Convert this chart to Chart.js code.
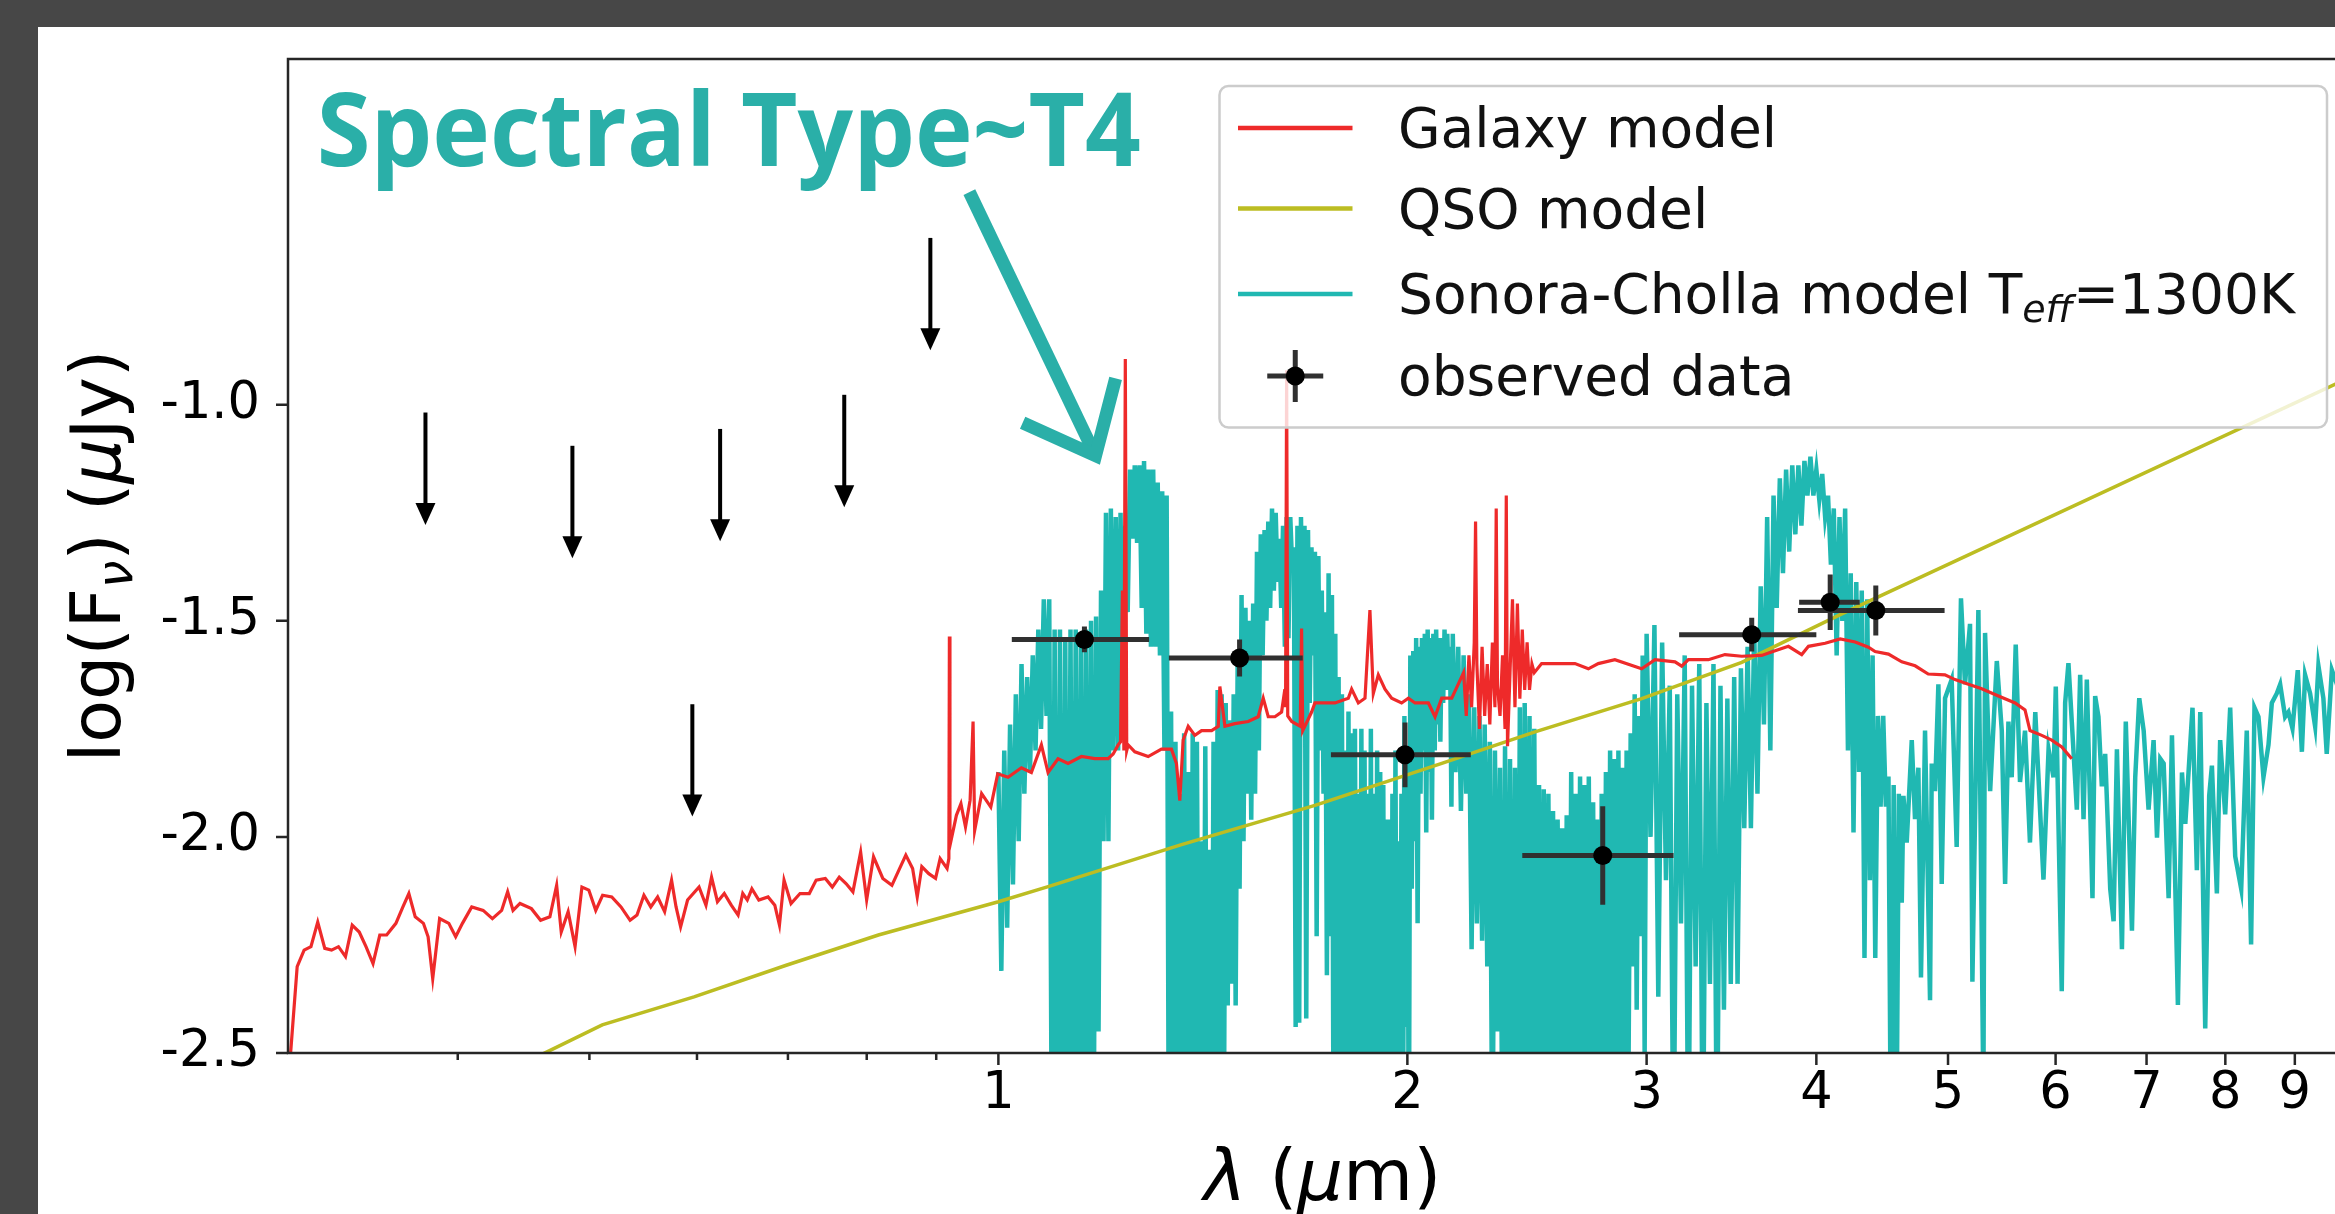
<!DOCTYPE html>
<html>
<head>
<meta charset="utf-8">
<title>SED fit</title>
<script src="https://cdn.jsdelivr.net/npm/chart.js@4.4.0/dist/chart.umd.min.js"></script>
<style>
  html, body { margin: 0; padding: 0; overflow: hidden; background: #474747; }
  #panel { position: absolute; left: 38px; top: 27px; right: 0; bottom: 0; background: #fff; }
  #sed { position: absolute; left: 0; top: 0; }
</style>
</head>
<body>
<div id="panel"></div>
<canvas id="sed" width="2400" height="1214"></canvas>
<script>
// Galaxy model (red), wavelength in micron, log flux in uJy
const galaxyWave = [
  0.301,0.3047,0.3083,0.3119,0.3155,0.3193,0.3230,0.3268,0.3307,0.3345,
  0.3385,0.3424,0.3465,0.3505,0.3546,0.3602,0.3645,0.3682,0.3722,0.3774,
  0.3804,0.3834,0.3879,0.3940,0.3986,0.4032,0.4096,0.4176,0.4242,0.4309,
  0.4353,0.4393,0.4445,0.4532,0.4603,0.4676,0.4730,0.4767,0.4823,0.4880,
  0.4937,0.4995,0.5054,0.5113,0.5193,0.5275,0.5357,0.5420,0.5484,0.5548,
  0.5613,0.5680,0.5747,0.5791,0.5836,0.5905,0.6021,0.6092,0.6150,0.6212,
  0.6284,0.6359,0.6433,0.6484,0.6534,0.6585,0.6663,0.6768,0.6846,0.6900,
  0.6954,0.7037,0.7145,0.7258,0.7343,0.7458,0.7547,0.7636,0.7724,0.7815,
  0.7918,0.7999,0.8093,0.8221,0.8349,0.8448,0.8548,0.8647,0.8715,0.8783,
  0.8887,0.8990,0.9060,0.9167,0.9195,0.9203,0.9212,0.9313,0.9385,0.9458,
  0.9532,0.9580,0.9606,0.9720,0.9872,0.9989,1.0165,1.0398,1.0575,1.0756,
  1.0878,1.1064,1.1254,1.1511,1.1775,1.2044,1.2147,1.2250,1.2300,1.2340,
  1.2370,1.2400,1.2430,1.2460,1.2602,1.2890,1.3183,1.3408,1.3522,1.3600,
  1.3677,1.3795,1.3951,1.4110,1.4353,1.4516,1.4555,1.4680,1.4928,1.5272,
  1.5532,1.5665,1.5799,1.5978,1.6160,1.6250,1.6270,1.6299,1.6330,1.6439,
  1.6680,1.6717,1.6750,1.7004,1.7099,1.7392,1.7691,1.8095,1.8197,1.8405,
  1.8614,1.8770,1.8878,1.9039,1.9256,1.9474,1.9805,2.0034,2.0261,2.0725,
  2.0960,2.1198,2.1563,2.200,2.210,2.220,2.230,2.240,2.245,2.250,
  2.260,2.270,2.280,2.290,2.300,2.310,2.320,2.325,2.330,2.340,
  2.350,2.360,2.365,2.370,2.380,2.390,2.400,2.410,2.420,2.430,
  2.440,2.450,2.460,2.470,2.480,2.511,2.657,2.718,2.764,2.843,
  2.975,3.043,3.148,3.184,3.220,3.331,3.426,3.525,3.646,3.730,
  3.815,3.902,3.947,4.060,4.165,4.272,4.369,4.419,4.520,4.623,
  4.729,4.835,4.974,5.060,5.176,5.294,5.446,5.602,5.697,5.745,
  5.861,5.961,6.063,6.167
];
const galaxyFlux = [
  -2.52,-2.300,-2.262,-2.254,-2.197,-2.258,-2.262,-2.254,-2.277,-2.204,
  -2.220,-2.254,-2.293,-2.227,-2.227,-2.200,-2.162,-2.131,-2.185,-2.200,
  -2.231,-2.328,-2.189,-2.200,-2.231,-2.200,-2.162,-2.170,-2.189,-2.170,
  -2.127,-2.170,-2.154,-2.166,-2.193,-2.185,-2.112,-2.220,-2.173,-2.254,
  -2.116,-2.123,-2.170,-2.135,-2.139,-2.162,-2.193,-2.181,-2.135,-2.162,
  -2.139,-2.173,-2.100,-2.162,-2.208,-2.146,-2.116,-2.158,-2.093,-2.150,
  -2.131,-2.158,-2.181,-2.131,-2.146,-2.120,-2.146,-2.139,-2.158,-2.204,
  -2.100,-2.154,-2.131,-2.131,-2.100,-2.096,-2.116,-2.093,-2.108,-2.127,
  -2.035,-2.146,-2.046,-2.096,-2.112,-2.077,-2.042,-2.073,-2.139,-2.069,
  -2.085,-2.096,-2.050,-2.073,-2.050,-1.536,-2.020,-1.950,-1.923,-1.977,
  -1.915,-1.733,-1.985,-1.900,-1.931,-1.854,-1.862,-1.840,-1.851,-1.787,
  -1.851,-1.819,-1.830,-1.814,-1.819,-1.819,-1.808,-1.787,-1.780,-1.430,
  -1.800,-0.894,-1.800,-1.787,-1.803,-1.814,-1.797,-1.797,-1.830,-1.916,
  -1.776,-1.744,-1.765,-1.754,-1.754,-1.744,-1.652,-1.744,-1.738,-1.733,
  -1.722,-1.679,-1.722,-1.722,-1.711,-1.658,-1.700,-0.920,-1.720,-1.733,
  -1.744,-1.518,-1.754,-1.711,-1.690,-1.690,-1.690,-1.679,-1.658,-1.690,
  -1.679,-1.475,-1.668,-1.625,-1.658,-1.679,-1.690,-1.679,-1.690,-1.690,
  -1.722,-1.679,-1.679,-1.62,-1.72,-1.58,-1.70,-1.55,-1.27,-1.60,
  -1.75,-1.56,-1.72,-1.60,-1.74,-1.55,-1.70,-1.24,-1.65,-1.72,
  -1.58,-1.75,-1.21,-1.79,-1.62,-1.45,-1.70,-1.46,-1.68,-1.52,
  -1.66,-1.55,-1.66,-1.60,-1.62,-1.599,-1.599,-1.611,-1.599,-1.590,
  -1.611,-1.590,-1.595,-1.605,-1.590,-1.590,-1.578,-1.582,-1.580,-1.569,
  -1.559,-1.578,-1.559,-1.552,-1.542,-1.549,-1.561,-1.571,-1.577,-1.595,
  -1.604,-1.623,-1.625,-1.636,-1.647,-1.657,-1.674,-1.690,-1.706,-1.754,
  -1.765,-1.776,-1.792,-1.819
];

// QSO model (olive)
const qsoWave = [0.44, 0.467, 0.511, 0.597, 0.698, 0.816, 1.0, 1.088, 1.364, 1.71, 2.12,
  2.483, 2.975, 3.525, 4.176, 10.0];
const qsoFlux = [-2.534, -2.495, -2.435, -2.370, -2.297, -2.227, -2.150, -2.115, -2.018, -1.927, -1.830,
  -1.757, -1.680, -1.596, -1.484, -0.929];

// Sonora-Cholla model, Teff = 1300 K (teal)
const sonoraWave = [
  1.000,1.005,1.010,1.015,1.020,1.025,1.030,1.035,1.040,1.045,
  1.050,1.055,1.060,1.065,1.070,1.075,1.080,1.085,1.090,1.095,
  1.100,1.105,1.110,1.115,1.120,1.125,1.130,1.135,1.140,1.145,
  1.150,1.155,1.160,1.165,1.170,1.175,1.180,1.185,1.190,1.195,
  1.200,1.205,1.210,1.215,1.220,1.225,1.230,1.235,1.240,1.245,
  1.250,1.255,1.260,1.265,1.270,1.275,1.280,1.285,1.290,1.295,
  1.300,1.305,1.310,1.315,1.320,1.325,1.330,1.335,1.340,1.345,
  1.350,1.355,1.360,1.365,1.370,1.375,1.380,1.385,1.390,1.395,
  1.400,1.405,1.410,1.415,1.420,1.425,1.430,1.435,1.440,1.445,
  1.450,1.455,1.460,1.465,1.470,1.475,1.480,1.485,1.490,1.495,
  1.500,1.505,1.510,1.515,1.520,1.525,1.530,1.535,1.540,1.545,
  1.550,1.555,1.560,1.565,1.570,1.575,1.580,1.585,1.590,1.595,
  1.600,1.605,1.610,1.615,1.620,1.625,1.630,1.635,1.640,1.645,
  1.650,1.655,1.660,1.665,1.670,1.675,1.680,1.685,1.690,1.695,
  1.700,1.705,1.710,1.715,1.720,1.725,1.730,1.735,1.740,1.745,
  1.750,1.755,1.760,1.765,1.770,1.775,1.780,1.785,1.790,1.795,
  1.800,1.805,1.810,1.815,1.820,1.825,1.830,1.835,1.840,1.845,
  1.850,1.855,1.860,1.865,1.870,1.875,1.880,1.885,1.890,1.895,
  1.900,1.905,1.910,1.915,1.920,1.925,1.930,1.935,1.940,1.945,
  1.950,1.955,1.960,1.965,1.970,1.975,1.980,1.985,1.990,1.995,
  2.000,2.005,2.010,2.015,2.020,2.025,2.030,2.035,2.040,2.045,
  2.050,2.055,2.060,2.065,2.070,2.075,2.080,2.085,2.090,2.095,
  2.100,2.105,2.110,2.115,2.120,2.125,2.130,2.135,2.140,2.145,
  2.150,2.155,
  2.16,2.17,2.18,2.19,2.20,2.21,2.22,2.23,2.24,2.25,
  2.26,2.27,2.28,2.29,2.30,2.31,2.32,2.33,2.34,2.35,
  2.36,2.37,2.38,2.39,2.40,2.41,2.42,2.43,2.44,2.45,
  2.46,2.47,2.48,2.49,2.50,2.51,2.52,2.53,2.54,2.55,
  2.56,2.57,2.58,2.59,2.60,2.61,2.62,2.63,2.64,2.65,
  2.66,2.67,2.68,2.69,2.70,2.71,2.72,2.73,2.74,2.75,
  2.76,2.77,2.78,2.79,2.80,2.81,2.82,2.83,2.84,2.85,
  2.86,2.87,2.88,2.89,2.90,2.91,2.92,2.93,2.94,2.95,
  2.96,2.97,2.98,2.99,
  3.00,3.02,3.04,3.06,3.08,3.10,3.12,3.14,3.16,3.18,
  3.20,3.22,3.24,3.26,3.28,3.30,3.32,3.34,3.36,3.38,
  3.40,3.42,3.44,3.46,3.48,3.50,3.52,3.54,3.56,3.58,
  3.60,3.62,3.64,3.66,3.68,3.70,3.72,3.74,3.76,3.78,
  3.80,3.82,3.84,3.86,3.88,3.90,3.92,3.94,3.96,3.98,
  4.00,4.02,4.04,4.06,4.08,4.10,4.12,4.14,4.16,4.18,
  4.20,4.22,4.24,4.26,4.28,4.30,4.32,4.34,4.36,4.38,
  4.40,4.42,4.44,4.46,4.48,4.50,4.52,4.54,4.56,4.58,
  4.60,
  4.623,4.636,4.662,4.702,4.728,4.755,4.776,4.809,4.850,4.864,
  4.891,4.919,4.947,4.975,5.031,5.074,5.111,5.146,5.190,5.211,
  5.264,5.309,5.324,5.370,5.431,5.477,5.508,5.539,5.570,5.608,
  5.649,5.697,5.745,5.797,5.878,5.929,5.979,6.002,6.063,6.098,
  6.132,6.167,6.220,6.255,6.291,6.326,6.387,6.416,6.452,6.489,
  6.526,6.582,6.620,6.657,6.714,6.758,6.829,6.867,6.914,6.966,
  7.024,7.084,7.125,7.165,7.206,7.267,7.308,7.382,7.433,7.475,
  7.516,7.567,7.623,7.667,7.732,7.784,7.820,7.886,7.930,7.998,
  8.066,8.135,8.218,8.296,8.357,8.405,8.462,8.534,8.607,8.656,
  8.729,8.779,8.853,8.903,8.964,9.045,9.108,9.158,9.236,9.315,
  9.367,9.446,9.500,9.583,9.666,9.750,9.850,9.950,10.05
];
const sonoraFlux = [
  -1.85,-2.31,-1.80,-2.21,-1.74,-2.11,-1.67,-2.01,-1.60,-1.90,
  -1.63,-1.85,-1.58,-1.80,-1.52,-1.75,-1.45,-1.72,-1.45,-2.80,
  -1.52,-2.80,-1.52,-2.80,-1.54,-2.80,-1.52,-2.80,-1.52,-2.80,
  -1.53,-2.80,-1.52,-2.80,-1.50,-2.80,-1.49,-2.45,-1.43,-2.01,
  -1.25,-2.01,-1.24,-1.80,-1.26,-1.80,-1.25,-1.65,-1.28,-1.48,
  -1.15,-1.31,-1.14,-1.32,-1.14,-1.47,-1.13,-1.53,-1.15,-1.56,
  -1.15,-1.56,-1.18,-1.58,-1.20,-1.80,-1.21,-2.80,-1.71,-2.80,
  -1.78,-2.80,-1.90,-2.80,-1.76,-2.80,-1.85,-2.80,-1.76,-2.80,
  -1.78,-2.80,-2.01,-2.80,-1.79,-2.80,-2.03,-2.80,-1.78,-2.80,
  -1.66,-2.80,-1.67,-2.80,-1.69,-2.39,-1.73,-2.34,-1.67,-2.39,
  -1.60,-2.12,-1.44,-2.01,-1.47,-1.90,-1.50,-1.96,-1.46,-1.90,
  -1.34,-1.80,-1.30,-1.58,-1.29,-1.50,-1.27,-1.47,-1.24,-1.43,
  -1.25,-1.41,-1.31,-1.47,-1.28,-1.56,-1.26,-1.54,-1.26,-1.37,
  -1.33,-2.44,-1.28,-2.43,-1.26,-1.58,-1.28,-2.42,-1.29,-1.69,
  -1.33,-1.58,-1.34,-2.23,-1.35,-1.80,-1.43,-1.90,-1.48,-2.32,
  -1.39,-2.23,-1.44,-2.80,-1.53,-2.80,-1.63,-2.80,-1.67,-2.80,
  -1.80,-2.80,-1.71,-2.80,-1.76,-2.80,-1.75,-2.80,-1.90,-2.80,
  -1.75,-2.80,-1.80,-2.80,-1.90,-2.80,-1.75,-2.80,-1.90,-2.80,
  -1.80,-2.80,-1.85,-2.80,-1.88,-2.80,-1.96,-2.80,-1.96,-2.80,
  -1.90,-2.80,-1.80,-2.80,-2.01,-2.80,-1.90,-2.80,-1.72,-2.44,
  -1.80,-2.80,-1.58,-2.12,-1.57,-2.01,-1.54,-2.20,-1.56,-1.90,
  -1.54,-1.80,-1.53,-1.99,-1.52,-1.85,-1.54,-1.96,-1.53,-1.80,
  -1.52,-1.74,-1.54,-1.78,-1.54,-1.69,-1.52,-1.66,-1.53,-1.66,
  -1.56,-1.93,
  -1.53,-1.85,-1.56,-1.94,-1.58,-1.90,-1.67,-2.26,-1.70,-2.20,
  -1.72,-2.24,-1.74,-2.30,-1.78,-2.80,-1.80,-2.45,-1.84,-2.80,
  -1.79,-2.80,-1.82,-2.80,-1.84,-2.80,-1.70,-2.80,-1.69,-2.80,
  -1.72,-2.80,-1.75,-2.80,-1.88,-2.80,-1.89,-2.80,-1.90,-2.80,
  -1.94,-2.80,-1.96,-2.80,-1.98,-2.80,-1.95,-2.80,-1.85,-2.80,
  -1.90,-2.80,-1.86,-2.80,-1.88,-2.80,-1.86,-2.80,-1.92,-2.80,
  -1.96,-2.80,-1.90,-2.80,-1.85,-2.80,-1.80,-2.80,-1.82,-2.80,
  -1.80,-2.80,-1.84,-2.80,-1.80,-2.50,-1.76,-2.30,-1.67,-2.40,
  -1.72,-2.23,-1.58,-2.50,
  -1.53,-2.00,-1.51,-2.37,-1.55,-2.10,-1.65,-2.80,-1.67,-2.20,
  -1.58,-2.80,-1.65,-2.30,-1.60,-2.80,-1.69,-2.34,-1.60,-2.80,
  -1.65,-2.40,-1.68,-2.34,-1.63,-2.34,-1.61,-1.98,-1.56,-1.98,
  -1.52,-1.90,-1.42,-1.74,-1.26,-1.80,-1.21,-1.47,-1.17,-1.39,
  -1.15,-1.34,-1.14,-1.30,-1.14,-1.28,-1.13,-1.21,-1.12,-1.21,
  -1.15,-1.22,-1.16,-1.26,-1.21,-1.37,-1.24,-1.58,-1.26,-1.50,
  -1.24,-1.80,-1.39,-1.99,-1.41,-1.85,-1.43,-2.28,-1.45,-2.10,
  -1.58,-2.28,-1.72,-1.93,-1.72,-1.93,-1.86,-2.80,-1.88,-2.80,
  -1.90,
  -2.152,-1.905,-2.013,-1.776,-1.959,-1.840,-2.325,-1.754,-2.378,-1.830,
  -1.894,-1.647,-2.109,-1.679,-1.636,-2.023,-1.448,-1.647,-1.507,-2.335,
  -1.475,-2.60,-1.528,-1.894,-1.593,-1.754,-2.109,-1.733,-1.862,-1.555,
  -1.873,-1.754,-2.013,-1.711,-2.099,-1.797,-1.862,-1.652,-2.357,-1.690,
  -1.598,-1.733,-1.937,-1.625,-1.959,-1.636,-2.142,-1.674,-1.722,-1.883,
  -1.808,-2.120,-2.195,-1.797,-2.260,-1.733,-2.217,-1.862,-1.679,-1.754,
  -1.937,-1.776,-2.002,-1.819,-1.830,-2.142,-1.765,-2.389,-1.851,-1.970,
  -1.851,-1.701,-2.077,-1.711,-2.443,-1.905,-1.835,-2.131,-1.776,-1.948,
  -1.701,-2.045,-2.120,-1.754,-2.249,-1.701,-1.722,-1.862,-1.787,-1.690,
  -1.668,-1.647,-1.722,-1.711,-1.749,-1.614,-1.803,-1.625,-1.668,-1.744,
  -1.604,-1.679,-1.808,-1.614,-1.647,-1.700,-1.630,-1.660,-1.640
];

// observed photometry with error bars
const obsWave = [1.157, 1.505, 1.992, 2.785, 3.585, 4.095, 4.424];
const obsFlux = [-1.543, -1.586, -1.810, -2.043, -1.532, -1.457, -1.476];
const obsWaveErr = [0.134, 0.170, 0.235, 0.355, 0.415, 0.210, 0.547];
const obsFluxErr = [0.030, 0.043, 0.075, 0.114, 0.039, 0.064, 0.058];

// upper limits (arrows pointing down)
const limWave = [0.3787, 0.4858, 0.5953, 0.6240, 0.7701, 0.8911];
const limFlux = [-1.018, -1.095, -1.693, -1.056, -0.977, -0.614];
const limLength = 0.26;

const xMajorTicks = [1, 2, 3, 4, 5, 6, 7, 8, 9];
const xMinorTicks = [0.4, 0.5, 0.6, 0.7, 0.8, 0.9];
const yTicks = [-2.5, -2.0, -1.5, -1.0];

const RED = '#ee2a2a';
const OLIVE = '#bcbd22';
const TEAL = '#20b8b2';
const NOTE = '#2aafa8';
const INK = '#262626';

if (sonoraWave.length !== sonoraFlux.length || galaxyWave.length !== galaxyFlux.length) {
  console.error('length mismatch', sonoraWave.length, sonoraFlux.length, galaxyWave.length, galaxyFlux.length);
}

const toPoints = (xs, ys) => xs.map((x, i) => ({ x, y: ys[i] }));

// draws text made of several pieces (plain, italic, subscript) on one baseline
function richText(ctx, parts, x, y, align) {
  let width = 0;
  parts.forEach(p => { ctx.font = p.font; width += ctx.measureText(p.t).width; });
  let cx = align === 'center' ? x - width / 2 : x;
  parts.forEach(p => {
    ctx.font = p.font;
    ctx.fillText(p.t, cx, y + (p.dy || 0));
    cx += ctx.measureText(p.t).width;
  });
}

const FONT = '"DejaVu Sans"';

const sedDecor = {
  id: 'sedDecor',
  beforeDatasetDraw(chart, args) {
    if (args.index !== 0) return;
    // error bars go under the black dots
    const { ctx, scales: { x, y } } = chart;
    ctx.save();
    ctx.strokeStyle = '#303030';
    ctx.lineWidth = 5;
    obsWave.forEach((w, i) => {
      const px = x.getPixelForValue(w);
      const py = y.getPixelForValue(obsFlux[i]);
      ctx.beginPath();
      ctx.moveTo(x.getPixelForValue(w - obsWaveErr[i]), py);
      ctx.lineTo(x.getPixelForValue(w + obsWaveErr[i]), py);
      ctx.moveTo(px, y.getPixelForValue(obsFlux[i] - obsFluxErr[i]));
      ctx.lineTo(px, y.getPixelForValue(obsFlux[i] + obsFluxErr[i]));
      ctx.stroke();
    });
    ctx.restore();
  },
  afterDatasetsDraw(chart) {
    const { ctx, chartArea: a, scales: { x, y } } = chart;
    ctx.save();

    // upper limit arrows
    ctx.fillStyle = '#000';
    ctx.strokeStyle = '#000';
    ctx.lineWidth = 4;
    limWave.forEach((w, i) => {
      const px = x.getPixelForValue(w);
      const top = y.getPixelForValue(limFlux[i]);
      const tip = y.getPixelForValue(limFlux[i] - limLength);
      ctx.beginPath();
      ctx.moveTo(px, top);
      ctx.lineTo(px, tip - 12);
      ctx.stroke();
      ctx.beginPath();
      ctx.moveTo(px - 10, tip - 22);
      ctx.lineTo(px + 10, tip - 22);
      ctx.lineTo(px, tip);
      ctx.closePath();
      ctx.fill();
    });

    // axes frame and tick marks
    ctx.strokeStyle = INK;
    ctx.lineWidth = 2.5;
    ctx.strokeRect(a.left, a.top, a.right - a.left, a.bottom - a.top);
    ctx.beginPath();
    xMajorTicks.forEach(v => {
      const p = x.getPixelForValue(v);
      ctx.moveTo(p, a.bottom); ctx.lineTo(p, a.bottom + 12);
    });
    xMinorTicks.forEach(v => {
      const p = x.getPixelForValue(v);
      ctx.moveTo(p, a.bottom); ctx.lineTo(p, a.bottom + 7);
    });
    yTicks.forEach(v => {
      const p = y.getPixelForValue(v);
      ctx.moveTo(a.left, p); ctx.lineTo(a.left - 12, p);
    });
    ctx.stroke();
    ctx.restore();
  },
  afterDraw(chart) {
    const { ctx, chartArea: a, scales: { x, y } } = chart;
    ctx.save();

    // axis titles
    ctx.fillStyle = '#000';
    ctx.textBaseline = 'alphabetic';
    richText(ctx, [
      { t: '\u03bb', font: 'italic 72px ' + FONT },
      { t: ' (', font: '72px ' + FONT },
      { t: '\u03bc', font: 'italic 72px ' + FONT },
      { t: 'm)', font: '72px ' + FONT }
    ], (a.left + a.right) / 2, 1200, 'center');

    ctx.save();
    ctx.translate(120, (a.top + a.bottom) / 2);
    ctx.rotate(-Math.PI / 2);
    richText(ctx, [
      { t: 'log(F', font: '70px ' + FONT },
      { t: '\u03bd', font: 'italic 49px ' + FONT, dy: 12 },
      { t: ') (', font: '70px ' + FONT },
      { t: '\u03bc', font: 'italic 70px ' + FONT },
      { t: 'Jy)', font: '70px ' + FONT }
    ], 0, 0, 'center');
    ctx.restore();

    // legend
    const lw = 1107.5, lh = 341.5;
    const left = a.right - 30 - lw, top = a.top + 27;
    ctx.beginPath();
    ctx.roundRect(left, top, lw, lh, 9);
    ctx.fillStyle = 'rgba(255,255,255,0.8)';
    ctx.fill();
    ctx.strokeStyle = '#cccccc';
    ctx.lineWidth = 2.5;
    ctx.stroke();

    const rows = [42, 122.6, 208, 290];
    const mainFont = '55px ' + FONT;
    const sampleL = left + 18.5, sampleR = left + 133, textX = left + 178.5;
    [RED, OLIVE, TEAL].forEach((c, i) => {
      ctx.strokeStyle = c;
      ctx.lineWidth = 4.5;
      ctx.beginPath();
      ctx.moveTo(sampleL, top + rows[i]);
      ctx.lineTo(sampleR, top + rows[i]);
      ctx.stroke();
    });
    const mx = (sampleL + sampleR) / 2, my = top + rows[3];
    ctx.strokeStyle = '#303030';
    ctx.lineWidth = 5;
    ctx.beginPath();
    ctx.moveTo(mx - 28, my); ctx.lineTo(mx + 28, my);
    ctx.moveTo(mx, my - 26); ctx.lineTo(mx, my + 26);
    ctx.stroke();
    ctx.fillStyle = '#000';
    ctx.beginPath();
    ctx.arc(mx, my, 9.5, 0, Math.PI * 2);
    ctx.fill();

    ctx.fillStyle = '#111';
    richText(ctx, [{ t: 'Galaxy model', font: mainFont }], textX, top + rows[0] + 19);
    richText(ctx, [{ t: 'QSO model', font: mainFont }], textX, top + rows[1] + 19);
    richText(ctx, [
      { t: 'Sonora-Cholla model T', font: mainFont },
      { t: 'eff', font: 'italic 38px ' + FONT, dy: 9 },
      { t: '=1300K', font: mainFont }
    ], textX, top + rows[2] + 19);
    richText(ctx, [{ t: 'observed data', font: mainFont }], textX, top + rows[3] + 19);

    // spectral type annotation
    const label = 'Spectral Type~T4';
    ctx.font = 'bold 102px "Open Sans"';
    const tw = ctx.measureText(label).width;
    ctx.save();
    ctx.translate(x.getPixelForValue(0.315), y.getPixelForValue(-0.448));
    ctx.scale(824 / tw, 1);
    ctx.fillStyle = NOTE;
    ctx.fillText(label, 0, 0);
    ctx.restore();

    const tail = { x: x.getPixelForValue(0.952), y: y.getPixelForValue(-0.508) };
    const tip = { x: x.getPixelForValue(1.179), y: y.getPixelForValue(-1.118) };
    const ang = Math.atan2(tail.y - tip.y, tail.x - tip.x);
    ctx.strokeStyle = NOTE;
    ctx.lineWidth = 13;
    ctx.lineJoin = 'miter';
    ctx.beginPath();
    ctx.moveTo(tail.x, tail.y);
    ctx.lineTo(tip.x, tip.y);
    ctx.stroke();
    ctx.beginPath();
    ctx.moveTo(tip.x + 80 * Math.cos(ang - 0.7), tip.y + 80 * Math.sin(ang - 0.7));
    ctx.lineTo(tip.x, tip.y);
    ctx.lineTo(tip.x + 80 * Math.cos(ang + 0.7), tip.y + 80 * Math.sin(ang + 0.7));
    ctx.stroke();

    ctx.restore();
  }
};

new Chart(document.getElementById('sed'), {
  type: 'line',
  data: {
    datasets: [
      {
        label: 'observed data',
        data: toPoints(obsWave, obsFlux),
        showLine: false,
        pointRadius: 9.5,
        pointBackgroundColor: '#000',
        pointBorderWidth: 0,
        order: 0
      },
      {
        label: 'Galaxy model',
        data: toPoints(galaxyWave, galaxyFlux),
        borderColor: RED,
        borderWidth: 3.2,
        pointRadius: 0,
        tension: 0,
        clip: 0,
        order: 1
      },
      {
        label: 'QSO model',
        data: toPoints(qsoWave, qsoFlux),
        borderColor: OLIVE,
        borderWidth: 3.5,
        pointRadius: 0,
        tension: 0,
        clip: 0,
        order: 2
      },
      {
        label: 'Sonora-Cholla model',
        data: toPoints(sonoraWave, sonoraFlux),
        borderColor: TEAL,
        borderWidth: 4.5,
        pointRadius: 0,
        tension: 0,
        clip: 0,
        order: 3
      }
    ]
  },
  options: {
    responsive: false,
    animation: false,
    events: [],
    layout: { padding: { left: 0, right: 43, top: 59, bottom: 0 } },
    plugins: { legend: { display: false }, tooltip: { enabled: false } },
    scales: {
      x: {
        type: 'logarithmic',
        min: 0.3,
        max: 10,
        afterFit: s => { s.height = 161; },
        afterBuildTicks: s => { s.ticks = xMinorTicks.concat(xMajorTicks).map(v => ({ value: v })); },
        grid: { display: false, drawTicks: false },
        border: { display: false },
        ticks: {
          autoSkip: false,
          maxRotation: 0,
          padding: 11,
          color: '#000',
          font: { family: 'DejaVu Sans', size: 51 },
          callback: v => (v >= 1 ? String(v) : '')
        }
      },
      y: {
        min: -2.5,
        max: -0.2,
        afterFit: s => { s.width = 288; },
        afterBuildTicks: s => { s.ticks = yTicks.map(v => ({ value: v })); },
        grid: { display: false, drawTicks: false },
        border: { display: false },
        ticks: {
          padding: 28,
          color: '#000',
          font: { family: 'DejaVu Sans', size: 51 },
          callback: v => v.toFixed(1)
        }
      }
    }
  },
  plugins: [sedDecor]
});
</script>
</body>
</html>
